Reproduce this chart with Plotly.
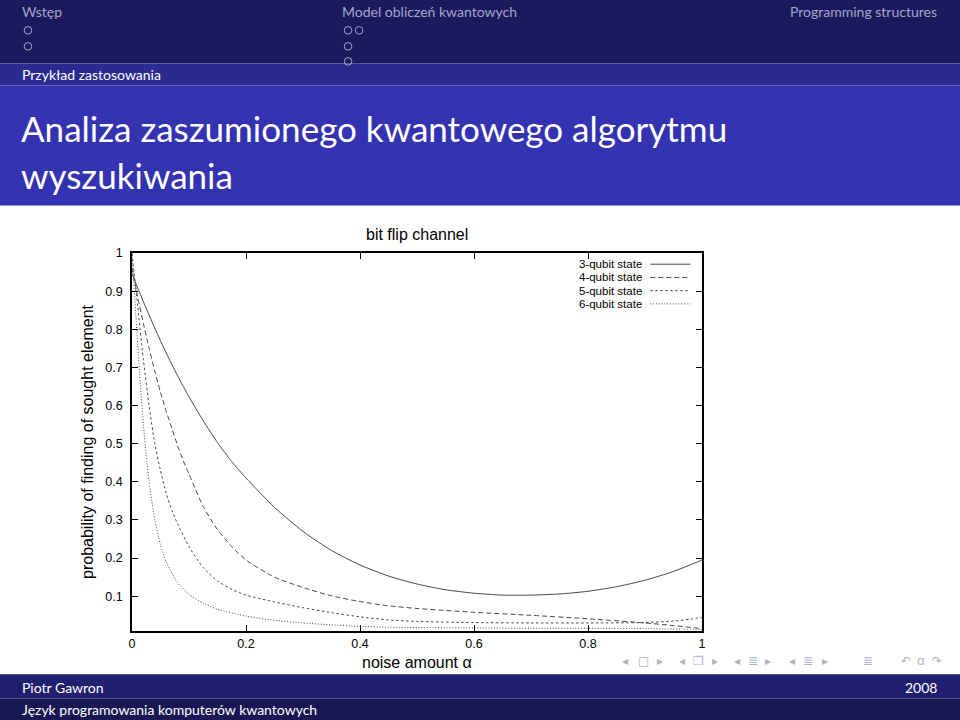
import plotly.graph_objects as go

# ---------------- data ----------------
alpha_3 = [0, 0.02, 0.04, 0.06, 0.08, 0.1, 0.125, 0.15, 0.175, 0.2, 0.25, 0.3, 0.35, 0.4,
           0.45, 0.5, 0.55, 0.6, 0.65, 0.7, 0.75, 0.8, 0.85, 0.9, 0.95, 1.0]
p_3 = [0.945, 0.872, 0.803, 0.738, 0.678, 0.623, 0.56, 0.503, 0.453, 0.41, 0.333, 0.27, 0.22, 0.182,
       0.153, 0.132, 0.117, 0.108, 0.103, 0.103, 0.106, 0.113, 0.125, 0.142, 0.165, 0.195]

alpha_4 = [0, 0.01, 0.02, 0.03, 0.04, 0.05, 0.06, 0.07, 0.08, 0.09, 0.1, 0.125, 0.15, 0.175,
           0.2, 0.25, 0.3, 0.35, 0.4, 0.45, 0.5, 0.6, 0.7, 0.8, 0.9, 0.95, 1.0]
p_4 = [0.961, 0.885, 0.815, 0.75, 0.69, 0.635, 0.585, 0.54, 0.495, 0.455, 0.42, 0.335, 0.275, 0.23,
       0.195, 0.15, 0.123, 0.101, 0.086, 0.075, 0.068, 0.058, 0.05, 0.041, 0.03, 0.023, 0.015]

alpha_5 = [0, 0.01, 0.02, 0.03, 0.04, 0.05, 0.06, 0.07, 0.08, 0.1, 0.125, 0.15, 0.175, 0.2,
           0.25, 0.3, 0.35, 0.4, 0.45, 0.5, 0.6, 0.7, 0.8, 0.9, 0.95, 0.98, 1.0]
p_5 = [0.999, 0.86, 0.72, 0.6, 0.5, 0.43, 0.37, 0.325, 0.29, 0.23, 0.175, 0.14, 0.118, 0.103,
       0.085, 0.07, 0.057, 0.046, 0.038, 0.034, 0.031, 0.03, 0.03, 0.031, 0.035, 0.04, 0.045]

alpha_6 = [0, 0.005, 0.01, 0.015, 0.02, 0.025, 0.03, 0.04, 0.05, 0.06, 0.08, 0.1, 0.125, 0.15,
           0.2, 0.25, 0.3, 0.35, 0.4, 0.45, 0.5, 0.6, 0.7, 0.8, 0.9, 1.0]
p_6 = [0.997, 0.88, 0.76, 0.65, 0.55, 0.47, 0.4, 0.3, 0.235, 0.19, 0.135, 0.105, 0.082, 0.066,
       0.048, 0.037, 0.03, 0.025, 0.021, 0.019, 0.018, 0.017, 0.016, 0.016, 0.015, 0.013]

series_names = ["3-qubit state", "4-qubit state", "5-qubit state", "6-qubit state"]
x_ticks = [0, 0.2, 0.4, 0.6, 0.8, 1]
x_tick_labels = ["0", "0.2", "0.4", "0.6", "0.8", "1"]
y_ticks = [0.1, 0.2, 0.3, 0.4, 0.5, 0.6, 0.7, 0.8, 0.9, 1.0]
y_tick_labels = ["0.1", "0.2", "0.3", "0.4", "0.5", "0.6", "0.7", "0.8", "0.9", "1"]

chart_title = "bit flip channel"
x_title = "noise amount α"
y_title = "probability of finding of sought element"

# ---------------- layout geometry ----------------
W, H = 960, 720
X0, X1 = 132.0, 701.7      # plot area left / right (px)
YT, YB = 253.3, 630.7      # plot area top / bottom (px)


def px(x):
    return (x - X0) / (X1 - X0)


def py(y):
    return (YB - y) / (YB - YT)


dashes = ["solid", "5px,3px", "2.5px,2.5px", "1px,1.8px"]
line_col = "#4a4a4a"

fig = go.Figure()
for xs, ys, name, d in zip([alpha_3, alpha_4, alpha_5, alpha_6], [p_3, p_4, p_5, p_6],
                           series_names, dashes):
    fig.add_trace(go.Scatter(x=xs, y=ys, mode="lines", name=name,
                             line=dict(color=line_col, width=1, dash=d, shape="spline", smoothing=0.6),
                             showlegend=False))

shapes = []
annos = []

# ---- slide decoration (beamer) ----
NAVY = "rgb(27,26,92)"
BAND = "rgb(42,42,145)"
TITLEBG = "rgb(51,51,178)"
FOOT1 = "rgb(33,32,112)"
FOOT2 = "rgb(25,24,84)"
HDR_TXT = "rgb(165,165,205)"
SLIDE_FONT = "Lato, 'Liberation Sans', sans-serif"


def band(y0, y1, col):
    shapes.append(dict(type="rect", xref="paper", yref="paper", x0=px(0), x1=px(W),
                       y0=py(y1), y1=py(y0), fillcolor=col, line=dict(width=0), layer="below"))


band(0, 64, NAVY)
band(64, 86, BAND)
band(86, 206, TITLEBG)
band(674, 698, FOOT1)
band(698, 720, FOOT2)


def text(x, y, s, size, color, anchor="left", font=SLIDE_FONT, height=None):
    a = dict(x=px(x), y=py(y), xref="paper", yref="paper", text=s, showarrow=False,
             xanchor=anchor, yanchor="middle", font=dict(size=size, color=color, family=font))
    if height is not None:
        a["height"] = height
    annos.append(a)


text(20, 12, "Wstęp", 14, HDR_TXT)
text(340, 12, "Model obliczeń kwantowych", 14, HDR_TXT)
text(939, 12, "Programming structures", 14, HDR_TXT, anchor="right")
text(20, 75, "Przykład zastosowania", 14, "white")
text(19, 128, "Analiza zaszumionego kwantowego algorytmu", 35, "white")
text(19, 175, "wyszukiwania", 35, "white")
text(20, 687, "Piotr Gawron", 14, "white")
text(939, 687, "2008", 14, "white", anchor="right")
text(20, 709, "Język programowania komputerów kwantowych", 14, "white")

# header mini-frame circles
for cx, cy in [(28, 31), (28, 47), (348, 31), (359, 31), (348, 47), (348, 62)]:
    shapes.append(dict(type="circle", xref="paper", yref="paper",
                       x0=px(cx - 3.8), x1=px(cx + 3.8), y0=py(cy + 3.8), y1=py(cy - 3.8),
                       line=dict(color=HDR_TXT, width=1), fillcolor="rgba(0,0,0,0)"))

# navigation symbols
NAV = "rgb(175,175,200)"
nav = [(625, "◂"), (643, "□"), (660, "▸"), (682, "◂"), (698, "❐"), (715, "▸"),
       (737, "◂"), (753, "≣"), (768, "▸"), (792, "◂"), (808, "≣"), (825, "▸"),
       (868, "≣"), (906, "↶"), (921, "ɑ"), (937, "↷")]
for x, g in nav:
    text(x, 661, g, 12, NAV, anchor="center", font="'DejaVu Sans', sans-serif")

# ---- chart texts ----
CHART_FONT = "'Liberation Sans', Arial, sans-serif"
text(416.5, 235, chart_title, 16, "black", anchor="center", font=CHART_FONT)
text(416.5, 662, x_title, 16, "black", anchor="center", font=CHART_FONT)
annos.append(dict(x=px(88), y=py(441), xref="paper", yref="paper", text=y_title, showarrow=False,
                  textangle=-90, xanchor="center", yanchor="middle",
                  font=dict(size=16, color="black", family=CHART_FONT)))

# legend (gnuplot style: text then sample)
leg_y = [264.5, 277.7, 290.9, 304.1]
for name, d, ly in zip(series_names, dashes, leg_y):
    text(643.5, ly, name, 11.5, "black", anchor="right", font=CHART_FONT, height=12)
    shapes.append(dict(type="line", xref="paper", yref="paper", x0=px(650), x1=px(690),
                       y0=py(ly), y1=py(ly), line=dict(color=line_col, width=1, dash=d)))

fig.update_layout(
    width=W, height=H,
    margin=dict(l=X0, r=W - X1, t=YT, b=H - YB, pad=0),
    paper_bgcolor="white", plot_bgcolor="white",
    shapes=shapes, annotations=annos,
    font=dict(family=CHART_FONT, size=12.5, color="black"),
    xaxis=dict(range=[0, 1], tickvals=x_ticks, ticktext=x_tick_labels, ticks="inside", ticklen=6,
               tickcolor="black", tickwidth=1, showline=True, linecolor="black", linewidth=1.5,
               mirror="ticks", showgrid=False, zeroline=False, ticklabelstandoff=0,
               tickfont=dict(size=12.5, family=CHART_FONT)),
    yaxis=dict(range=[0.0089, 1.0], tickvals=y_ticks, ticktext=y_tick_labels, ticks="inside", ticklen=6,
               tickcolor="black", tickwidth=1, showline=True, linecolor="black", linewidth=1.5,
               mirror="ticks", showgrid=False, zeroline=False, ticklabelstandoff=5,
               tickfont=dict(size=12.5, family=CHART_FONT)),
)

fig.write_html("out.html", config={"displayModeBar": False})
